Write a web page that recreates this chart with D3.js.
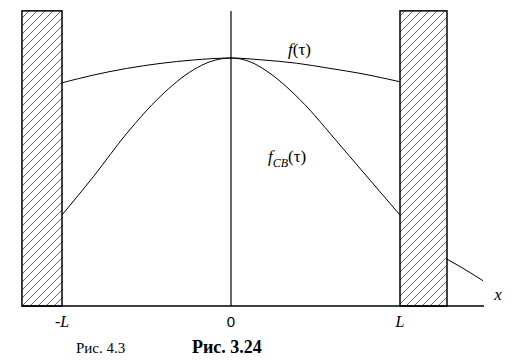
<!DOCTYPE html>
<html>
<head>
<meta charset="utf-8">
<script src="https://cdn.jsdelivr.net/npm/d3@7"></script>
<style>
  body { margin: 0; background: #fff; }
  svg { display: block; }
  text { font-family: "Liberation Serif", "Times New Roman", serif; fill: #000; }
</style>
</head>
<body>
<svg id="Viz" width="513" height="363"></svg>
<script>
// positions in units of L, heights in units of the peak value
var fTau = [[-1, 0.90], [-0.815, 0.931], [-0.617, 0.958], [-0.42, 0.978], [-0.223, 0.992], [0, 1.0],
            [0.189, 0.992], [0.388, 0.979], [0.586, 0.958], [0.781, 0.936], [1, 0.904]];
var fCB = [[-1, 0.367], [-0.815, 0.521], [-0.617, 0.696], [-0.42, 0.844],
           [-0.223, 0.952], [-0.124, 0.985], [0, 1.0],
           [0.112, 0.985], [0.231, 0.938], [0.349, 0.871], [0.467, 0.79], [0.586, 0.696],
           [0.704, 0.602], [0.822, 0.508], [1, 0.367]];
var tail = [[1.278, 0.189], [1.373, 0.152], [1.491, 0.102]];
var walls = [[-1.237, -1], [1, 1.278]];
var wallTop = 1.19;
var ticks = [{v: -1, label: "-L"}, {v: 0, label: "0"}, {v: 1, label: "L"}];

var svg = d3.select("#Viz");

var x = d3.scaleLinear().domain([-1, 1]).range([62, 400]);
var y = d3.scaleLinear().domain([0, 1]).range([306, 58]);

var defs = svg.append("defs");
defs.append("pattern")
    .attr("id", "hatch")
    .attr("patternUnits", "userSpaceOnUse")
    .attr("width", 8).attr("height", 8)
  .append("path")
    .attr("d", "M-1,9 L9,-1 M-1,1 L1,-1 M7,9 L9,7")
    .attr("stroke", "#000")
    .attr("stroke-width", 0.6);

svg.selectAll("rect.wall")
  .data(walls)
  .enter().append("rect")
    .attr("class", "wall")
    .attr("x", function(d) { return x(d[0]); })
    .attr("y", y(wallTop))
    .attr("width", function(d) { return x(d[1]) - x(d[0]); })
    .attr("height", y(0) - y(wallTop))
    .attr("fill", "url(#hatch)")
    .attr("stroke", "#000")
    .attr("stroke-width", 1.5);

// axes
svg.append("line")
    .attr("x1", x(-1.237)).attr("x2", x(1.497))
    .attr("y1", y(0)).attr("y2", y(0))
    .attr("stroke", "#000").attr("stroke-width", 1.5);
svg.append("line")
    .attr("x1", x(0)).attr("x2", x(0))
    .attr("y1", y(wallTop)).attr("y2", y(0))
    .attr("stroke", "#000").attr("stroke-width", 1.2);

var line = d3.line()
  .x(function(d) { return x(d[0]); })
  .y(function(d) { return y(d[1]); })
  .curve(d3.curveMonotoneX);

svg.selectAll("path.curve")
  .data([fTau, fCB, tail])
  .enter().append("path")
    .attr("class", "curve")
    .attr("d", line)
    .attr("fill", "none")
    .attr("stroke", "#000")
    .attr("stroke-width", 1);

// tick labels
ticks.forEach(function(t) {
  var txt = svg.append("text")
    .attr("x", x(t.v))
    .attr("y", 327)
    .attr("text-anchor", "middle")
    .attr("font-size", 16);
  if (t.label == "0") {
    txt.style("font-family", "Liberation Sans, Arial, sans-serif").attr("font-size", 15).text("0");
  } else {
    if (t.label[0] == "-") txt.append("tspan").text("-");
    txt.append("tspan").attr("font-style", "italic").text("L");
  }
});

svg.append("text")
    .attr("x", 498).attr("y", 300)
    .attr("text-anchor", "middle")
    .attr("font-size", 17).attr("font-style", "italic")
    .text("x");

// curve labels
var l1 = svg.append("text").attr("x", 288).attr("y", 55).attr("font-size", 17);
l1.append("tspan").attr("font-style", "italic").text("f");
l1.append("tspan").text("(τ)");

var l2 = svg.append("text").attr("x", 268).attr("y", 162).attr("font-size", 17);
l2.append("tspan").attr("font-style", "italic").text("f");
l2.append("tspan").attr("font-style", "italic").attr("font-size", 12).attr("dy", 5).text("CB");
l2.append("tspan").attr("dy", -5).text("(τ)");

// captions
svg.append("text")
    .attr("x", 76).attr("y", 353)
    .attr("font-size", 15)
    .text("Рис. 4.3");
svg.append("text")
    .attr("x", 192).attr("y", 353)
    .attr("font-size", 18).attr("font-weight", "bold")
    .text("Рис. 3.24");
</script>
</body>
</html>
